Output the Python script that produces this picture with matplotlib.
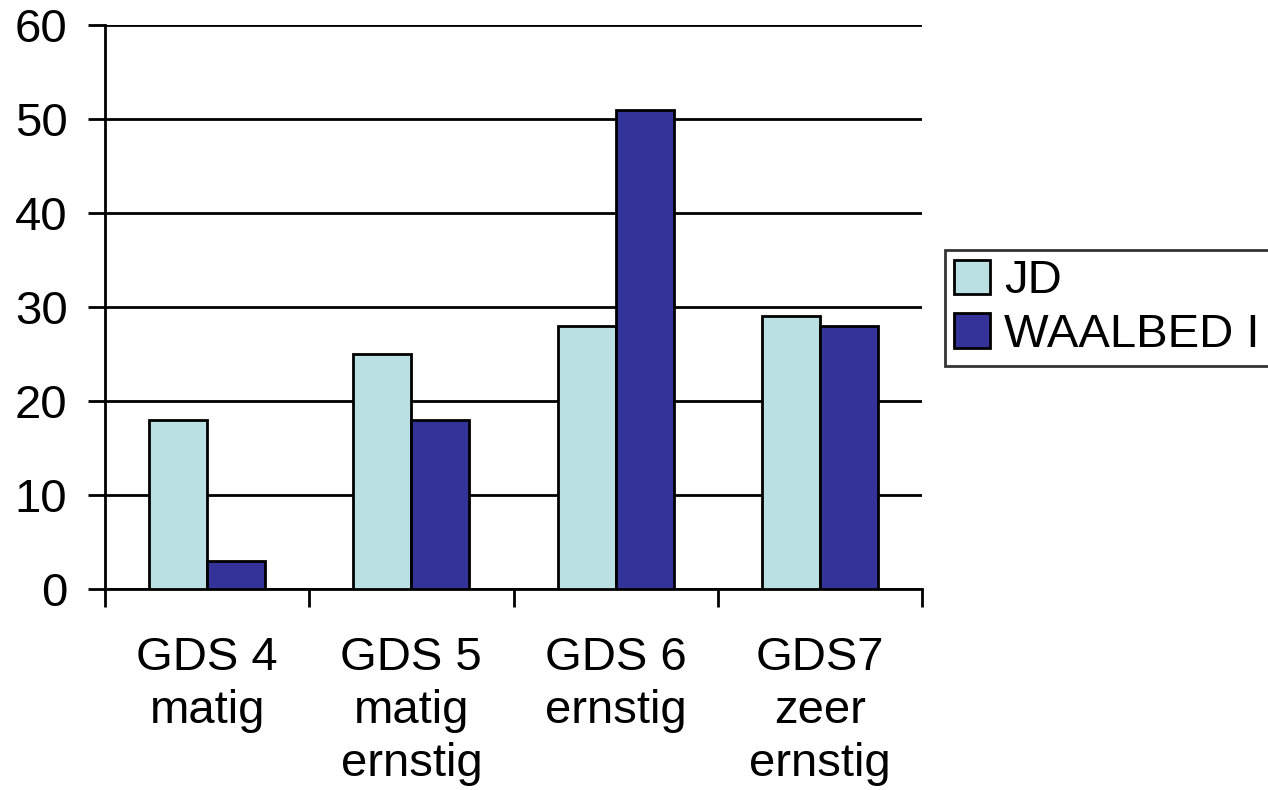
import matplotlib
matplotlib.use("Agg")
import matplotlib.pyplot as plt
import numpy as np

categories = ["GDS 4\nmatig", "GDS 5\nmatig\nernstig", "GDS 6\nernstig", "GDS7\nzeer\nernstig"]
jd = [18, 25, 28, 29]
waalbed = [3, 18, 51, 28]
series_names = ["JD", "WAALBED I"]
colors = ["#BBE0E3", "#333399"]

plt.rcParams["font.family"] = ["Liberation Sans", "DejaVu Sans"]

fig = plt.figure(figsize=(12.68, 7.9), dpi=100)
ax = fig.add_axes([105 / 1268, 1 - 589 / 790, (922 - 105) / 1268, (589 - 25) / 790])

x = np.arange(len(categories))
w = 0.284
b1 = ax.bar(x - w / 2, jd, w, color=colors[0], edgecolor="black", linewidth=2, zorder=3, label=series_names[0])
b2 = ax.bar(x + w / 2, waalbed, w, color=colors[1], edgecolor="black", linewidth=2, zorder=3, label=series_names[1])

ax.set_xlim(-0.5, len(categories) - 0.5)
ax.set_ylim(0, 60)
ax.set_yticks(np.arange(0, 61, 10))
ax.yaxis.grid(True, color="black", linewidth=2, zorder=0)
ax.set_axisbelow(True)

# boundary ticks on the x axis, labels centred under each group
ax.set_xticks(np.arange(-0.5, len(categories), 1.0))
ax.set_xticklabels([])
ax.set_xticks(x, minor=True)
ax.set_xticklabels(categories, minor=True, fontsize=34, linespacing=1.26)
ax.tick_params(axis="x", which="minor", length=0, pad=34)
ax.tick_params(axis="x", which="major", length=13, width=2, direction="out")
ax.tick_params(axis="y", length=12, width=2, direction="out", labelsize=34, pad=15)

for s in ["top", "right"]:
    ax.spines[s].set_visible(False)
ax.spines["left"].set_linewidth(2)
ax.spines["bottom"].set_linewidth(2)

leg = fig.legend(handles=[b1, b2], loc="upper left", bbox_to_anchor=(945 / 1268, 1 - 250 / 790),
                 fontsize=34, frameon=True, fancybox=False, edgecolor="black",
                 handlelength=0.75, handleheight=0.75, handletextpad=0.3,
                 borderpad=0.2, labelspacing=0.2, borderaxespad=0)
leg.get_frame().set_linewidth(2)

fig.savefig("out.png", dpi=100)
